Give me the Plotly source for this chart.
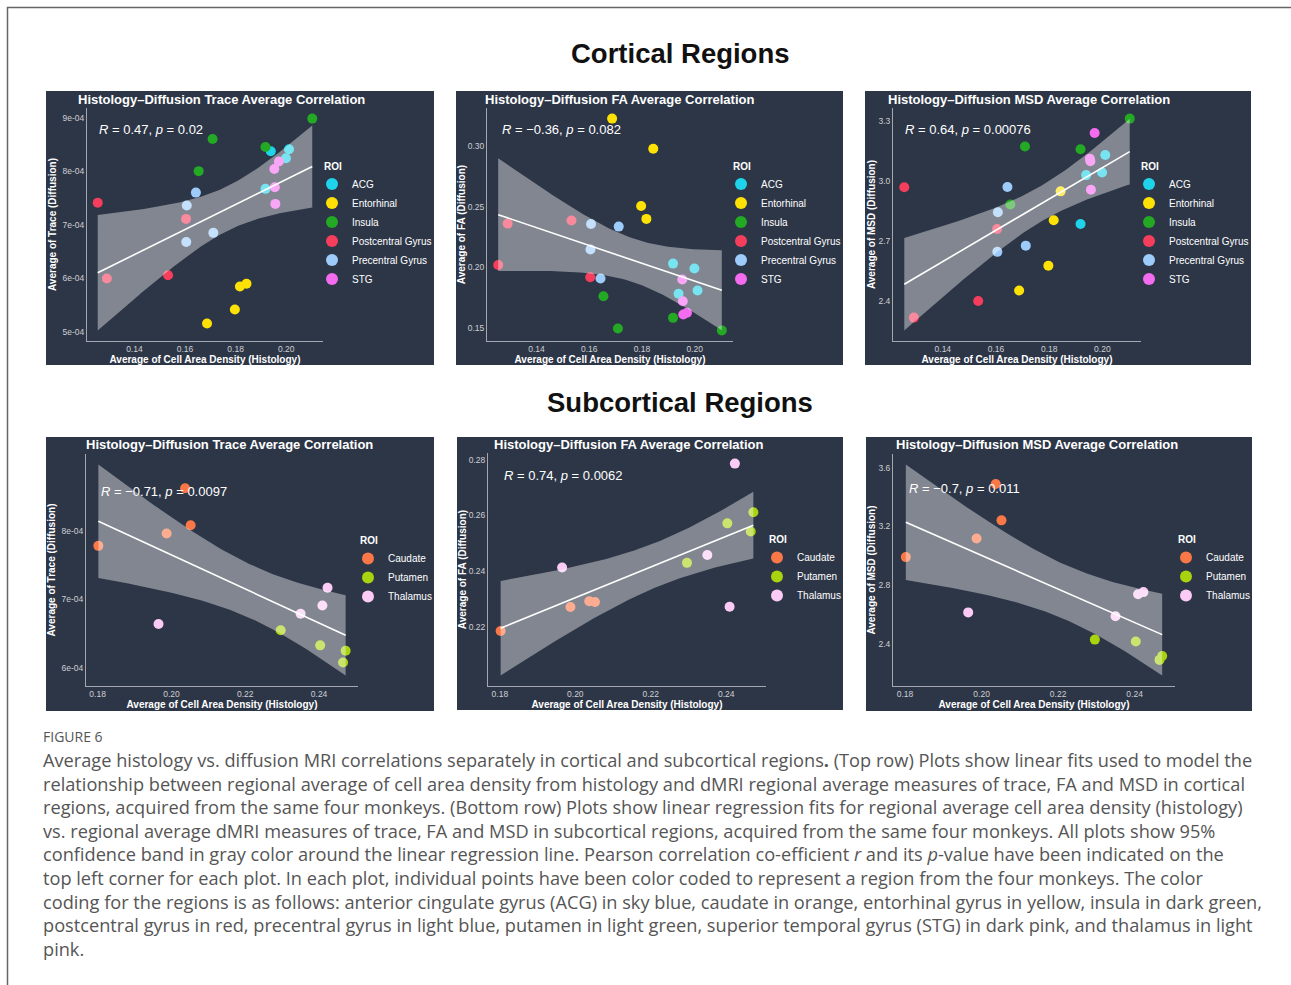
import numpy as np
import plotly.graph_objects as go

# ---------------------------------------------------------------------------
# Data: regional averages, one value per monkey (four monkeys per region)
# ---------------------------------------------------------------------------
cortical_rois = ["ACG", "Entorhinal", "Insula", "Postcentral Gyrus", "Precentral Gyrus", "STG"]

acg_density = [0.1939, 0.2011, 0.1999, 0.1918]
acg_trace = [8.37e-4, 8.41e-4, 8.24e-4, 7.67e-4]
acg_fa = [0.178, 0.1807, 0.1989, 0.203]
acg_msd = [3.028, 3.128, 3.041, 2.784]

ent_density = [0.1817, 0.1843, 0.1797, 0.1687]
ent_trace = [5.85e-4, 5.90e-4, 5.42e-4, 5.16e-4]
ent_fa = [0.240, 0.298, 0.2507, 0.323]
ent_msd = [2.803, 2.947, 2.576, 2.452]

ins_density = [0.2103, 0.1709, 0.1918, 0.1654]
ins_trace = [8.98e-4, 8.60e-4, 8.45e-4, 8.00e-4]
ins_fa = [0.1477, 0.1493, 0.1581, 0.176]
ins_msd = [3.31, 3.171, 3.157, 2.881]

post_density = [0.1255, 0.1533, 0.1604, 0.1291]
post_trace = [7.41e-4, 6.06e-4, 7.11e-4, 6.00e-4]
post_fa = [0.2019, 0.2386, 0.1917, 0.2361]
post_msd = [2.967, 2.40, 2.759, 2.317]

pre_density = [0.1643, 0.1607, 0.1712, 0.1605]
pre_trace = [7.60e-4, 7.36e-4, 6.85e-4, 6.68e-4]
pre_fa = [0.1906, 0.2358, 0.2336, 0.2146]
pre_msd = [2.969, 2.843, 2.676, 2.645]

stg_density = [0.1971, 0.1953, 0.1955, 0.1957]
stg_trace = [8.18e-4, 8.04e-4, 7.70e-4, 7.39e-4]
stg_fa = [0.1623, 0.1898, 0.1719, 0.1609]
stg_msd = [3.238, 3.110, 3.097, 2.955]

subcortical_rois = ["Caudate", "Putamen", "Thalamus"]

caudate_density = [0.1802, 0.1987, 0.2037, 0.2052]
caudate_trace = [7.78e-4, 7.96e-4, 8.62e-4, 8.08e-4]
caudate_fa = [0.2184, 0.2270, 0.2291, 0.2288]
caudate_msd = [2.991, 3.118, 3.488, 3.241]

putamen_density = [0.2296, 0.2403, 0.2472, 0.2465]
putamen_trace = [6.55e-4, 6.33e-4, 6.25e-4, 6.08e-4]
putamen_fa = [0.2429, 0.2571, 0.2611, 0.2542]
putamen_msd = [2.43, 2.417, 2.318, 2.292]

thalamus_density = [0.2423, 0.2409, 0.2350, 0.1965]
thalamus_trace = [7.17e-4, 6.91e-4, 6.79e-4, 6.64e-4]
thalamus_fa = [0.2786, 0.2271, 0.2457, 0.2412]
thalamus_msd = [2.753, 2.738, 2.589, 2.615]

# Tick positions and labels
cort_x_ticks = [0.14, 0.16, 0.18, 0.20]
cort_x_labels = ["0.14", "0.16", "0.18", "0.20"]
sub_x_ticks = [0.18, 0.20, 0.22, 0.24]
sub_x_labels = ["0.18", "0.20", "0.22", "0.24"]
cort_trace_ticks = [5e-4, 6e-4, 7e-4, 8e-4, 9e-4]
cort_trace_labels = ["5e-04", "6e-04", "7e-04", "8e-04", "9e-04"]
cort_fa_ticks = [0.15, 0.20, 0.25, 0.30]
cort_fa_labels = ["0.15", "0.20", "0.25", "0.30"]
cort_msd_ticks = [2.4, 2.7, 3.0, 3.3]
cort_msd_labels = ["2.4", "2.7", "3.0", "3.3"]
sub_trace_ticks = [6e-4, 7e-4, 8e-4]
sub_trace_labels = ["6e-04", "7e-04", "8e-04"]
sub_fa_ticks = [0.22, 0.24, 0.26, 0.28]
sub_fa_labels = ["0.22", "0.24", "0.26", "0.28"]
sub_msd_ticks = [2.4, 2.8, 3.2, 3.6]
sub_msd_labels = ["2.4", "2.8", "3.2", "3.6"]

# Correlation statistics printed on each panel
stat_labels = [
    "<i>R</i> = 0.47, <i>p</i> = 0.02",
    "<i>R</i> = −0.36, <i>p</i> = 0.082",
    "<i>R</i> = 0.64, <i>p</i> = 0.00076",
    "<i>R</i> = −0.71, <i>p</i> = 0.0097",
    "<i>R</i> = 0.74, <i>p</i> = 0.0062",
    "<i>R</i> = −0.7, <i>p</i> = 0.011",
]

roi_colors = {
    "ACG": "#1FD3EA",
    "Entorhinal": "#FFE205",
    "Insula": "#23A923",
    "Postcentral Gyrus": "#F53D5C",
    "Precentral Gyrus": "#9DCBFA",
    "STG": "#F36BEE",
    "Caudate": "#FA7748",
    "Putamen": "#A9D20F",
    "Thalamus": "#FBCBF5",
}

cortical_density = [acg_density, ent_density, ins_density, post_density, pre_density, stg_density]
cortical_trace = [acg_trace, ent_trace, ins_trace, post_trace, pre_trace, stg_trace]
cortical_fa = [acg_fa, ent_fa, ins_fa, post_fa, pre_fa, stg_fa]
cortical_msd = [acg_msd, ent_msd, ins_msd, post_msd, pre_msd, stg_msd]
sub_density = [caudate_density, putamen_density, thalamus_density]
sub_trace = [caudate_trace, putamen_trace, thalamus_trace]
sub_fa = [caudate_fa, putamen_fa, thalamus_fa]
sub_msd = [caudate_msd, putamen_msd, thalamus_msd]

# ---------------------------------------------------------------------------
# Page geometry (pixels) and styling
# ---------------------------------------------------------------------------
W, H = 1291, 985
PANEL_BG = "#2D3647"
AXIS_LINE = "#A3A8B0"
TICK_COL = "#CDCFD3"
FONT = "Liberation Sans, Arial, sans-serif"
CAPTION_FONT = "Open Sans, Lato, sans-serif"

T975 = {22: 2.0739, 10: 2.2281}  # two-sided 95% t quantiles for df = n - 2


def fx(p):
    return p / W


def fy(p):
    return 1 - p / H


def lm_band(x, y, n_grid=80):
    """Least-squares line with a 95% confidence band for the mean."""
    x = np.asarray(x, float)
    y = np.asarray(y, float)
    n = len(x)
    b1, b0 = np.polyfit(x, y, 1)
    resid = y - (b0 + b1 * x)
    s = np.sqrt(np.sum(resid ** 2) / (n - 2))
    sxx = np.sum((x - x.mean()) ** 2)
    grid = np.linspace(x.min(), x.max(), n_grid)
    fit = b0 + b1 * grid
    se = s * np.sqrt(1.0 / n + (grid - x.mean()) ** 2 / sxx)
    t = T975[n - 2]
    return grid, fit, fit - t * se, fit + t * se


def padded(lo, hi, frac=0.05):
    d = (hi - lo) * frac
    return [lo - d, hi + d]


panels = [
    dict(rois=cortical_rois, xs=cortical_density, ys=cortical_trace,
         box=(46, 91, 434, 365), plot=(87, 108, 323, 341), title_xy=(76, 99),
         stat_xy=(97, 129), legend_xy=(322, 225), ystandoff=4, metric="Trace",
         xt=(cort_x_ticks, cort_x_labels), yt=(cort_trace_ticks, cort_trace_labels)),
    dict(rois=cortical_rois, xs=cortical_density, ys=cortical_fa,
         box=(456, 91, 843, 365), plot=(487, 108, 733, 341), title_xy=(483, 99),
         stat_xy=(500, 129), legend_xy=(731, 225), ystandoff=0, metric="FA",
         xt=(cort_x_ticks, cort_x_labels), yt=(cort_fa_ticks, cort_fa_labels)),
    dict(rois=cortical_rois, xs=cortical_density, ys=cortical_msd,
         box=(865, 91, 1251, 365), plot=(893, 108, 1141, 341), title_xy=(886, 99),
         stat_xy=(903, 129), legend_xy=(1139, 225), ystandoff=0, metric="MSD",
         xt=(cort_x_ticks, cort_x_labels), yt=(cort_msd_ticks, cort_msd_labels)),
    dict(rois=subcortical_rois, xs=sub_density, ys=sub_trace,
         box=(46, 437, 434, 711), plot=(86, 454, 358, 686), title_xy=(84, 444),
         stat_xy=(99, 491), legend_xy=(358, 571), ystandoff=4, metric="Trace",
         xt=(sub_x_ticks, sub_x_labels), yt=(sub_trace_ticks, sub_trace_labels)),
    dict(rois=subcortical_rois, xs=sub_density, ys=sub_fa,
         box=(457, 437, 843, 710), plot=(488, 453, 766, 686), title_xy=(492, 444),
         stat_xy=(502, 475), legend_xy=(767, 570), ystandoff=0, metric="FA",
         xt=(sub_x_ticks, sub_x_labels), yt=(sub_fa_ticks, sub_fa_labels)),
    dict(rois=subcortical_rois, xs=sub_density, ys=sub_msd,
         box=(866, 437, 1252, 711), plot=(893, 454, 1175, 686), title_xy=(894, 444),
         stat_xy=(907, 488), legend_xy=(1176, 570), ystandoff=0, metric="MSD",
         xt=(sub_x_ticks, sub_x_labels), yt=(sub_msd_ticks, sub_msd_labels)),
]

fig = go.Figure()
shapes = []
annotations = []
layout_axes = {}

for i, pnl in enumerate(panels, start=1):
    sfx = "" if i == 1 else str(i)
    xref, yref = f"x{sfx}", f"y{sfx}"
    legend_id = f"legend{sfx}"

    # scatter points, one trace per region
    for roi, xv, yv in zip(pnl["rois"], pnl["xs"], pnl["ys"]):
        fig.add_trace(go.Scatter(
            x=xv, y=yv, mode="markers", name=roi,
            marker=dict(color=roi_colors[roi], size=10, line=dict(width=0)),
            xaxis=xref, yaxis=yref, legend=legend_id, hoverinfo="x+y+name",
        ))

    all_x = np.concatenate([np.asarray(v) for v in pnl["xs"]])
    all_y = np.concatenate([np.asarray(v) for v in pnl["ys"]])
    grid, fit, lo, hi = lm_band(all_x, all_y)

    # confidence band drawn over the points, then the fitted line
    fig.add_trace(go.Scatter(
        x=np.concatenate([grid, grid[::-1]]), y=np.concatenate([hi, lo[::-1]]),
        mode="lines", fill="toself", fillcolor="rgba(255,255,255,0.40)",
        line=dict(width=0), showlegend=False, hoverinfo="skip",
        xaxis=xref, yaxis=yref,
    ))
    fig.add_trace(go.Scatter(
        x=grid, y=fit, mode="lines", line=dict(color="white", width=1.6),
        showlegend=False, hoverinfo="skip", xaxis=xref, yaxis=yref,
    ))

    xr = padded(all_x.min(), all_x.max())
    yr = padded(min(all_y.min(), lo.min()), max(all_y.max(), hi.max()))
    l, t, r, b = pnl["plot"]

    layout_axes[f"xaxis{sfx}"] = dict(
        domain=[fx(l), fx(r)], range=xr, anchor=yref,
        showgrid=False, zeroline=False, showline=True,
        linecolor=AXIS_LINE, linewidth=1, ticks="",
        tickvals=pnl["xt"][0], ticktext=pnl["xt"][1],
        tickfont=dict(family=FONT, size=8.5, color=TICK_COL),
        title=dict(text="Average of Cell Area Density (Histology)", standoff=2,
                   font=dict(family=FONT, size=10, color="white", weight="bold")),
    )
    layout_axes[f"yaxis{sfx}"] = dict(
        domain=[fy(b), fy(t)], range=yr, anchor=xref,
        showgrid=False, zeroline=False, showline=True,
        linecolor=AXIS_LINE, linewidth=1, ticks="",
        tickvals=pnl["yt"][0], ticktext=pnl["yt"][1],
        tickfont=dict(family=FONT, size=8.5, color=TICK_COL),
        title=dict(text=f"Average of {pnl['metric']} (Diffusion)", standoff=pnl["ystandoff"],
                   font=dict(family=FONT, size=10, color="white", weight="bold")),
    )

    lx, ly = pnl["legend_xy"]
    layout_axes[legend_id] = dict(
        x=fx(lx), y=fy(ly), xanchor="left", yanchor="middle",
        bgcolor="rgba(0,0,0,0)", borderwidth=0,
        font=dict(family=FONT, size=10, color="white"),
        title=dict(text="ROI", font=dict(family=FONT, size=10, color="white", weight="bold")),
        itemsizing="constant", indentation=-10, tracegroupgap=0,
    )

    bx0, by0, bx1, by1 = pnl["box"]
    shapes.append(dict(type="rect", xref="paper", yref="paper", layer="below",
                       x0=fx(bx0), x1=fx(bx1), y0=fy(by1), y1=fy(by0),
                       fillcolor=PANEL_BG, line=dict(width=0)))

    tx, ty = pnl["title_xy"]
    annotations.append(dict(
        text=f"Histology–Diffusion {pnl['metric']} Average Correlation",
        xref="paper", yref="paper", x=fx(tx), y=fy(ty), xanchor="left", yanchor="middle",
        showarrow=False, font=dict(family=FONT, size=13, color="white", weight="bold"),
    ))
    sx, sy = pnl["stat_xy"]
    annotations.append(dict(
        text=stat_labels[i - 1], xref="paper", yref="paper", x=fx(sx), y=fy(sy),
        xanchor="left", yanchor="middle", showarrow=False,
        font=dict(family=FONT, size=13, color="white"),
    ))

# Row headings
for text, yy in [("Cortical Regions", 53), ("Subcortical Regions", 402)]:
    annotations.append(dict(
        text=text, xref="paper", yref="paper", x=fx(680), y=fy(yy),
        xanchor="center", yanchor="middle", showarrow=False,
        font=dict(family=FONT, size=27.5, color="#111111", weight="bold"),
    ))

# Figure caption
annotations.append(dict(
    text="FIGURE 6", xref="paper", yref="paper", x=fx(41), y=fy(736),
    xanchor="left", yanchor="middle", showarrow=False,
    font=dict(family=CAPTION_FONT, size=14, color="#555555"),
))
caption_lines = [
    "Average histology vs. diffusion MRI correlations separately in cortical and subcortical regions<b>.</b> (Top row) Plots show linear fits used to model the",
    "relationship between regional average of cell area density from histology and dMRI regional average measures of trace, FA and MSD in cortical",
    "regions, acquired from the same four monkeys. (Bottom row) Plots show linear regression fits for regional average cell area density (histology)",
    "vs. regional average dMRI measures of trace, FA and MSD in subcortical regions, acquired from the same four monkeys. All plots show 95%",
    "confidence band in gray color around the linear regression line. Pearson correlation co-efficient <i>r</i> and its <i>p</i>-value have been indicated on the",
    "top left corner for each plot. In each plot, individual points have been color coded to represent a region from the four monkeys. The color",
    "coding for the regions is as follows: anterior cingulate gyrus (ACG) in sky blue, caudate in orange, entorhinal gyrus in yellow, insula in dark green,",
    "postcentral gyrus in red, precentral gyrus in light blue, putamen in light green, superior temporal gyrus (STG) in dark pink, and thalamus in light",
    "pink.",
]
for k, line in enumerate(caption_lines):
    annotations.append(dict(
        text=line, xref="paper", yref="paper", x=fx(41), y=fy(760 + 23.6 * k),
        xanchor="left", yanchor="middle", showarrow=False,
        font=dict(family=CAPTION_FONT, size=18.2, color="#555555"),
    ))

# Outer frame (left and top edges visible)
shapes.append(dict(type="rect", xref="paper", yref="paper", layer="below",
                   x0=fx(7.5), x1=fx(1320), y0=fy(1020), y1=fy(7.5),
                   fillcolor="rgba(0,0,0,0)", line=dict(color="#666666", width=1.5)))

fig.update_layout(
    width=W, height=H, margin=dict(l=0, r=0, t=0, b=0),
    paper_bgcolor="white", plot_bgcolor="rgba(0,0,0,0)",
    shapes=shapes, annotations=annotations, hovermode="closest",
    **layout_axes,
)

fig.write_html("out.html")
